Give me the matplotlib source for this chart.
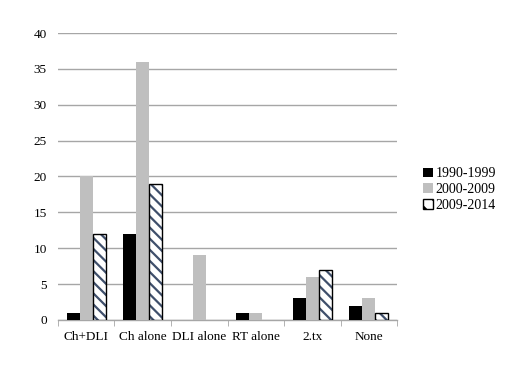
import numpy as np
import matplotlib.pyplot as plt

categories = ['Ch+DLI', 'Ch alone', 'DLI alone', 'RT alone', '2.tx', 'None']
s1990 = [1, 12, 0, 1, 3, 2]
s2000 = [20, 36, 9, 1, 6, 3]
s2009 = [12, 19, 0, 0, 7, 1]
labels = ['1990-1999', '2000-2009', '2009-2014']

plt.rcParams['font.family'] = 'Liberation Serif'
plt.rcParams['hatch.linewidth'] = 1.6

fig = plt.figure(figsize=(5.2, 3.91), dpi=100)
ax = fig.add_axes([0.1115, 0.1816, 0.652, 0.734])

x = np.arange(len(categories))
w = 0.23
ax.bar(x - w, s1990, w, color='black', label=labels[0], zorder=3)
ax.bar(x, s2000, w, color='#bfbfbf', label=labels[1], zorder=3)
# hatch in slate blue, outline in black (drawn separately)
ax.bar(x + w, s2009, w, facecolor='white', edgecolor='#3f4f6b', linewidth=0,
       hatch='\\\\\\', zorder=3)
ax.bar(x + w, s2009, w, fill=False, edgecolor='black',
       linewidth=[1.0 if v > 0 else 0 for v in s2009], zorder=4)

ax.set_xlim(-0.5, len(categories) - 0.5)
ax.set_ylim(0, 40)
ax.set_yticks(range(0, 41, 5))
ax.yaxis.grid(True, color='#a6a6a6', linewidth=1)
ax.set_axisbelow(True)
for s in ['top', 'right', 'left']:
    ax.spines[s].set_visible(False)
ax.spines['bottom'].set_color('#a6a6a6')
ax.spines['bottom'].set_linewidth(1)

ax.set_xticks(x)
ax.set_xticklabels(categories)
ax.set_xticks(np.arange(-0.5, len(categories), 1), minor=True)
ax.tick_params(axis='x', which='major', length=0, pad=8, labelsize=9.5)
ax.tick_params(axis='x', which='minor', length=4, color='#a6a6a6')
ax.tick_params(axis='y', length=0, pad=8, labelsize=9.5)

from matplotlib.patches import Patch
handles = [Patch(facecolor='black'), Patch(facecolor='#bfbfbf'),
           Patch(facecolor='white', edgecolor='black', linewidth=1.0, hatch='\\\\')]
ax.legend(handles, labels, loc='center left', bbox_to_anchor=(0.79, 0.515),
          bbox_transform=fig.transFigure, frameon=False, fontsize=10,
          handlelength=0.7, handleheight=0.7, handletextpad=0.2, labelspacing=0.2)

fig.savefig('out.png', dpi=100)
